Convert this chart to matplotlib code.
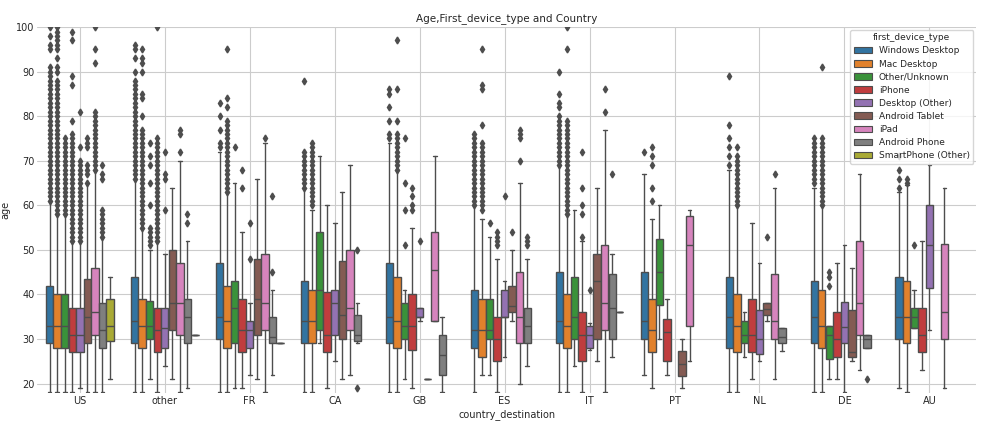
import matplotlib
matplotlib.use('Agg')
import matplotlib.pyplot as plt
import seaborn as sns

countries = ['US', 'other', 'FR', 'CA', 'GB', 'ES', 'IT', 'PT', 'NL', 'DE', 'AU']
devices = ['Windows Desktop', 'Mac Desktop', 'Other/Unknown', 'iPhone', 'Desktop (Other)',
           'Android Tablet', 'iPad', 'Android Phone', 'SmartPhone (Other)']

# box stats per country (rows) and device (cols): [whislo, q1, med, q3, whishi], None = no data
N = None
stats = [
    # US
    [[18, 29, 33, 42, 61], [18, 28, 33, 40, 58], [18, 28, 33, 40, 58], [18, 27, 31, 37, 52], [19, 27, 31, 37, 52],
     [18, 29, 35, 43.5, 65], [18, 31, 36, 46, 68], [18, 28, 32, 38, 53], [21, 29.5, 33, 39, 44]],
    # other
    [[18, 29, 34, 44, 66], [18, 28, 33, 39, 55], [21, 30, 33, 38.5, 50], [18, 27, 32, 37, 52], [24, 28, 32.5, 37, 49],
     [21, 32, 38, 50, 64], [18, 31, 38, 47, 70], [19, 29, 35, 39, 52], [31, 31, 31, 31, 31]],
    # FR
    [[18, 30, 35, 47, 72], [18, 28, 34, 42, 63], [19, 29, 37, 43, 65], [19, 27, 32, 39, 54], [22, 28, 32, 34, 38],
     [21, 31, 39, 48, 66], [18, 32, 38, 49, 74], [22, 29, 30.5, 35, 41], [29, 29, 29, 29, 29]],
    # CA
    [[18, 29, 34, 43, 64], [18, 29, 34, 41, 59], [29, 32, 41, 54, 71], [19, 27, 31, 40.5, 60], [25, 31, 38, 41, 56],
     [21, 30, 35.5, 47.5, 63], [22, 32, 37, 50, 69], [29, 29.5, 31, 35.5, 38], N],
    # GB
    [[18, 29, 35, 47, 74], [18, 28, 34, 44, 68], [21, 30, 33, 38, 41], [19, 27.5, 33, 40, 55], [34, 35, 35, 37, 37],
     [21, 21, 21, 21, 21], [34, 34, 45.5, 54, 71], [18, 22, 26.5, 31, 35], N],
    # ES
    [[18, 28, 32, 41, 60], [22, 26, 32, 39, 57], [22, 30, 32, 39, 53], [18, 25, 30, 35, 48], [26, 35, 35, 41, 43],
     [34, 36, 37.5, 42, 50], [20, 29, 35, 45, 65], [24, 29, 33, 37, 48], N],
    # IT
    [[18, 29, 34, 45, 69], [18, 28, 33, 40, 58], [24, 30, 35, 44, 59], [18, 25, 31, 36, 52], [27.5, 28, 31, 33, 33.5],
     [25, 30, 43, 49, 64], [18, 32, 38, 51, 77], [26, 30, 37, 44.5, 49], [36, 36, 36, 36, 36]],
    # PT
    [[22, 30, 34, 45, 67], [19, 27, 32, 39, 57], [30, 37.6, 45, 52.5, 60], [22, 25, 31.6, 34.6, 39], N,
     [19, 21.7, 24.5, 27.4, 30], [25, 33, 51, 57.5, 59], N, N],
    # NL
    [[18, 28, 35, 44, 68], [18, 27, 33, 40, 60], [26, 29, 31, 34, 36], [21, 27, 31, 39, 56], [25, 26.6, 30, 36.5, 47],
     [34, 35.3, 36.8, 38, 38], [21, 30, 34, 44.5, 64], [27.4, 29, 30.5, 32.4, 32.4], N],
    # DE
    [[18, 29, 35, 43, 64], [18, 28, 33, 41, 60], [21, 25.6, 31, 33, 33], [21, 26, 30, 36, 47], [18, 29, 32.6, 38.3, 51],
     [25, 26, 27, 36.5, 46], [23, 31, 38, 52, 67], [28, 28, 30, 31, 31], N],
    # AU
    [[19, 30, 35, 44, 63], [18, 29, 35, 43, 64.5], [32.4, 32.4, 35, 37, 41], [23, 27, 31, 37, 52], [32, 41.5, 51, 60, 69],
     N, [19, 30, 36, 51.4, 64], N, N],
]

# outliers keyed by (country index, device index)
fliers = {
    (0, 0): [61, 62, 63, 64, 65, 66, 67, 68, 69, 70, 71, 72, 73, 74, 75, 76, 77, 78, 79, 80, 81, 82, 83, 84, 85, 86,
             87, 88, 89, 90, 91, 95, 96, 98, 100],
    (0, 1): [58, 59, 60, 61, 62, 63, 64, 65, 66, 67, 68, 69, 70, 71, 72, 73, 74, 75, 76, 77, 78, 79, 80, 81, 82, 83,
             84, 85, 86, 87, 88, 90, 91, 93, 95, 96, 97, 98, 99, 100],
    (0, 2): [58, 59, 60, 61, 62, 63, 64, 65, 66, 67, 68, 69, 70, 71, 72, 73, 74, 75],
    (0, 3): [52, 53, 54, 55, 56, 57, 58, 59, 60, 61, 62, 63, 64, 65, 66, 67, 68, 69, 70, 71, 72, 73, 74, 75, 76, 79,
             87, 89, 97, 99],
    (0, 4): [52, 53, 54, 55, 56, 57, 58, 59, 60, 61, 62, 63, 64, 65, 66, 67, 68, 69, 70, 73, 81],
    (0, 5): [65, 67, 68, 69, 73, 74, 75],
    (0, 6): [68, 69, 70, 71, 72, 73, 74, 75, 76, 77, 78, 79, 80, 81, 92, 95, 100],
    (0, 7): [53, 54, 55, 56, 57, 58, 59, 66, 67, 69],
    (1, 0): [66, 67, 68, 69, 70, 71, 72, 73, 74, 75, 76, 77, 78, 79, 80, 81, 82, 83, 84, 85, 86, 87, 88, 90, 93, 95, 96],
    (1, 1): [55, 56, 57, 58, 59, 60, 61, 62, 63, 64, 65, 66, 67, 68, 69, 70, 71, 72, 73, 74, 75, 76, 77, 80, 84, 85,
             90, 92, 93, 95],
    (1, 2): [51, 52, 53, 54, 55, 60, 65, 69, 71, 74],
    (1, 3): [52, 53, 54, 55, 56, 57, 58, 59, 60, 61, 62, 63, 64, 65, 66, 67, 68, 69, 70, 71, 72, 73, 74, 75, 100],
    (1, 4): [59, 66, 67, 72],
    (1, 6): [72, 76, 77],
    (1, 7): [56, 58],
    (2, 0): [73, 74, 77, 80, 83],
    (2, 1): [63, 64, 65, 66, 67, 68, 69, 70, 71, 72, 73, 74, 75, 76, 77, 78, 79, 82, 84, 95],
    (2, 2): [73],
    (2, 3): [64, 68],
    (2, 4): [48, 56],
    (2, 6): [75],
    (2, 7): [45, 62],
    (3, 0): [64, 65, 66, 67, 68, 69, 70, 71, 72, 88],
    (3, 1): [60, 61, 62, 63, 64, 65, 66, 67, 68, 69, 70, 71, 72, 73, 74],
    (3, 7): [19, 50],
    (4, 0): [75, 76, 79, 82, 85, 86],
    (4, 1): [68, 69, 70, 71, 72, 73, 74, 75, 76, 79, 86, 97],
    (4, 2): [51, 59, 65, 75],
    (4, 3): [59, 60, 62, 64],
    (4, 4): [52],
    (5, 0): [60, 61, 62, 63, 64, 65, 66, 67, 68, 69, 70, 71, 72, 73, 74, 75, 76],
    (5, 1): [59, 60, 61, 62, 63, 64, 65, 66, 67, 68, 69, 70, 71, 72, 73, 74, 78, 86, 87, 95],
    (5, 2): [56],
    (5, 3): [51, 52, 53, 54],
    (5, 4): [62],
    (5, 5): [54],
    (5, 6): [70, 75, 76, 77],
    (5, 7): [51, 52, 53],
    (6, 0): [69, 70, 71, 72, 73, 74, 75, 76, 77, 78, 79, 80, 82, 83, 85, 90],
    (6, 1): [58, 59, 60, 61, 62, 63, 64, 65, 66, 67, 68, 69, 70, 71, 72, 73, 74, 75, 76, 77, 78, 79, 95, 100],
    (6, 3): [53, 58, 60, 64, 72],
    (6, 4): [41],
    (6, 6): [81, 86],
    (6, 7): [67],
    (7, 0): [72],
    (7, 1): [61, 64, 69, 71, 73],
    (8, 0): [69, 71, 73, 75, 78, 89],
    (8, 1): [60, 61, 62, 63, 64, 65, 66, 67, 68, 69, 70, 71, 73],
    (8, 5): [53],
    (8, 6): [67],
    (9, 0): [65, 66, 67, 68, 69, 70, 71, 72, 73, 74, 75],
    (9, 1): [60, 61, 62, 63, 64, 65, 66, 67, 68, 69, 70, 71, 72, 73, 74, 75, 91],
    (9, 2): [42, 44, 45],
    (9, 7): [21],
    (10, 0): [64, 66, 68, 71],
    (10, 1): [65, 66],
    (10, 2): [51],
}

sns.set_style('whitegrid')
base = sns.color_palette('tab10', len(devices))
palette = [sns.desaturate(c, 0.75) for c in base]

fig, ax = plt.subplots(figsize=(9.83, 4.23), dpi=100)
fig.subplots_adjust(left=0.038, right=0.993, top=0.936, bottom=0.07)

nd = len(devices)
slot = 0.8 / nd
for ci, c in enumerate(countries):
    for di, d in enumerate(devices):
        s = stats[ci][di]
        if s is None:
            continue
        bs = dict(whislo=s[0], q1=s[1], med=s[2], q3=s[3], whishi=s[4], fliers=fliers.get((ci, di), []))
        pos = ci - 0.4 + slot * (di + 0.5)
        ax.bxp([bs], positions=[pos], widths=slot * 0.98, patch_artist=True, showcaps=True,
               boxprops=dict(facecolor=palette[di], edgecolor='0.3', linewidth=1.0),
               medianprops=dict(color='0.3', linewidth=1.0),
               whiskerprops=dict(color='0.3', linewidth=1.0),
               capprops=dict(color='0.3', linewidth=1.0),
               flierprops=dict(marker='d', markerfacecolor='0.3', markeredgecolor='0.3', markersize=3.5))

ax.set_xticks(range(len(countries)))
ax.set_xticklabels(countries)
ax.set_xlim(-0.5, len(countries) - 0.45)
ax.set_ylim(17.8, 100)
ax.set_xlabel('country_destination', fontsize=7, labelpad=2)
ax.set_ylabel('age', fontsize=7)
ax.tick_params(labelsize=7, length=0, pad=2)
ax.set_title('Age,First_device_type and Country', fontsize=7.5, pad=4)
for sp in ax.spines.values():
    sp.set_visible(False)

handles = [plt.Rectangle((0, 0), 1, 1, facecolor=palette[i], edgecolor='0.3', linewidth=0.8) for i in range(nd)]
ax.legend(handles, devices, title='first_device_type', loc='upper right', fontsize=6.5, title_fontsize=6.5,
          frameon=True, borderaxespad=0.3, labelspacing=0.45, handlelength=2.0)

fig.savefig('out.png', dpi=100)
